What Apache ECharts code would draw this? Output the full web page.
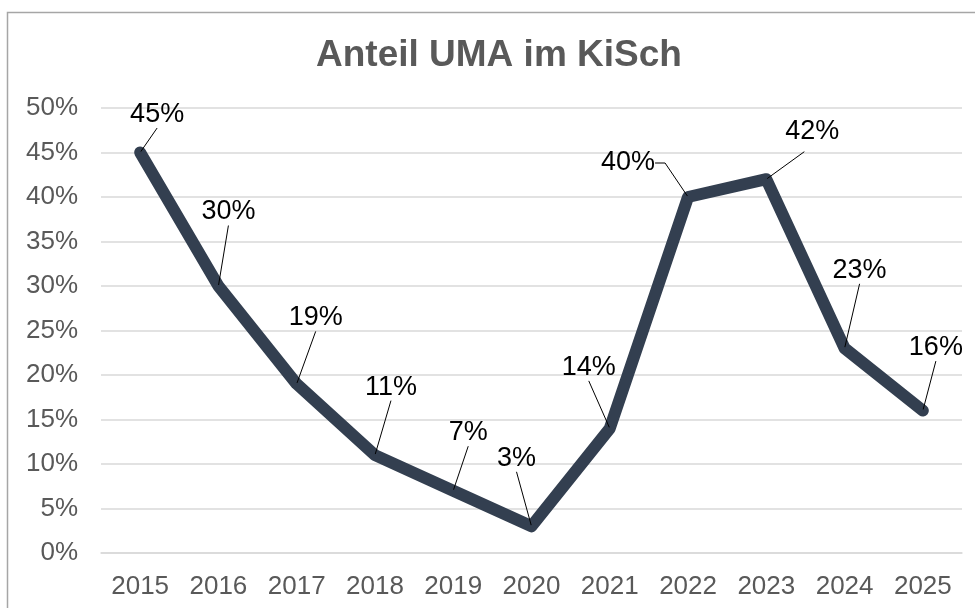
<!DOCTYPE html>
<html>
<head>
<meta charset="utf-8">
<script src="https://cdn.jsdelivr.net/npm/echarts@6/dist/echarts.min.js"></script>
<style>
html,body{margin:0;padding:0;background:#fff;}
#chart{width:975px;height:608px;}
</style>
</head>
<body>
<div id="chart"></div>
<script>
const titleText = 'Anteil UMA im KiSch';
const years = ['2015','2016','2017','2018','2019','2020','2021','2022','2023','2024','2025'];
const shares = [45, 30, 19, 11, 7, 3, 14, 40, 42, 23, 16];
const yTicks = { min: 0, max: 50, step: 5 };

// label placement (style only): [dx, dy] from the point to label box centre
const labelOffsets = [[17,-38],[10,-74],[19,-66],[16,-68],[15,-58],[-15,-68],[-21,-61],[-60,-34],[38,-48],[15,-78],[13,-63]];
const labelPads = [null,null,null,null,null,null,null,null,[4,4,10,20],null,null];
const leaderTail = [0,0,0,0,0,0,0,10,0,0,0];

const FONT = '"Liberation Sans", Arial, sans-serif';
const chart = echarts.init(document.getElementById('chart'));

const seriesData = shares.map((v, i) => {
  const item = { value: v, labelLine: { length2: leaderTail[i] } };
  if (labelPads[i]) item.label = { padding: labelPads[i], backgroundColor: 'rgba(255,255,255,0)' };
  return item;
});

chart.setOption({
  animation: false,
  backgroundColor: '#ffffff',
  graphic: [{
    type: 'rect',
    shape: { x: 7.5, y: 12.5, width: 1100, height: 800 },
    style: { fill: 'none', stroke: '#a6a6a6', lineWidth: 1.5 },
    silent: true, z: -1
  }],
  title: {
    text: titleText,
    left: 311,
    top: 32,
    textStyle: { fontFamily: FONT, fontSize: 37, fontWeight: 'bold', color: '#595959' }
  },
  grid: { left: 101, right: 13, top: 108, bottom: 55 },
  xAxis: {
    type: 'category',
    data: years,
    boundaryGap: true,
    axisLine: { show: true, lineStyle: { color: '#d9d9d9', width: 1.5 } },
    axisTick: { show: false },
    axisLabel: { color: '#595959', fontFamily: FONT, fontSize: 26, margin: 21 }
  },
  yAxis: {
    type: 'value',
    min: yTicks.min, max: yTicks.max, interval: yTicks.step,
    axisLine: { show: false },
    axisTick: { show: false },
    splitLine: { lineStyle: { color: '#d9d9d9', width: 1.5 } },
    axisLabel: { color: '#595959', fontFamily: FONT, fontSize: 26, margin: 23, formatter: '{value}%' }
  },
  series: [{
    type: 'line',
    data: seriesData,
    symbol: 'circle',
    symbolSize: 2,
    showSymbol: true,
    itemStyle: { color: '#333f50' },
    lineStyle: { color: '#333f50', width: 12, cap: 'round', join: 'round' },
    label: {
      show: true,
      position: 'inside',
      formatter: '{c}%',
      color: '#000000',
      fontFamily: FONT,
      fontSize: 27,
      padding: [4, 4, 4, 4]
    },
    labelLayout: function (params) {
      const o = labelOffsets[params.dataIndex];
      return { dx: o[0], dy: o[1] };
    },
    labelLine: { show: true, lineStyle: { color: '#000000', width: 1 } }
  }]
});
</script>
</body>
</html>
